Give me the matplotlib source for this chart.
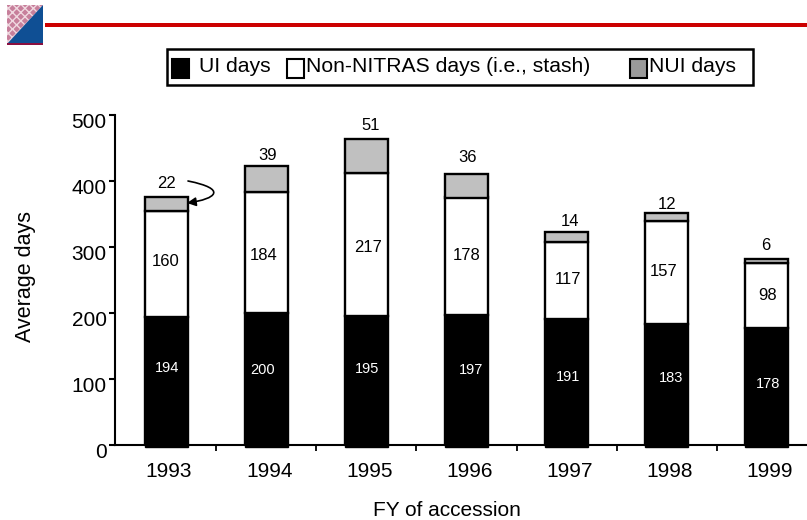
import matplotlib
matplotlib.use('Agg')
import matplotlib.pyplot as plt
import numpy as np
from matplotlib.patches import Rectangle, Polygon, FancyArrowPatch
from matplotlib.path import Path
from matplotlib.transforms import ScaledTranslation

years = ['1993', '1994', '1995', '1996', '1997', '1998', '1999']
ui_days = [194, 200, 195, 197, 191, 183, 178]
stash_days = [160, 184, 217, 178, 117, 157, 98]
nui_days = [22, 39, 51, 36, 14, 12, 6]

# label spots in the reference are hand placed, so pixel positions
ui_label_x = [167, 263, 367, 471, 568, 671, 768]
ui_label_y = [368, 370, 369, 370, 377, 378, 384]
stash_label_x = [166, 264, 368, 467, 568, 664, 768]
stash_label_y = [261, 256, 247, 255, 280, 271, 295]
nui_label_x = [167, 268, 371, 468, 570, 667, 766]
nui_label_y = [183, 155, 125, 158, 221, 205, 245]

W, H = 807, 520
plt.rcParams['font.family'] = ['Liberation Sans', 'DejaVu Sans']

fig = plt.figure(figsize=(W / 100, H / 100), dpi=100)


def fx(x):
    return x / W


def fy(y):
    return 1 - y / H


def label(x, y, s, **kw):
    fig.text(fx(x), fy(y), s, ha='center', va='center', **kw)


ax = fig.add_axes([fx(115), fy(445), fx(807 - 115), (445 - 115) / H])
x = np.arange(len(years))
ui = np.array(ui_days)
stash = np.array(stash_days)
nui = np.array(nui_days)
ax.bar(x, ui, 0.43, color='black', edgecolor='black', lw=1.7, zorder=3)
# black bars run a little under the axis line
ax.bar(x, 3, 0.43, bottom=-3, color='black', edgecolor='black', lw=1.0, clip_on=False, zorder=3)
ax.bar(x, stash, 0.43, bottom=ui, color='white', edgecolor='black', lw=1.7, zorder=3)
ax.bar(x, nui, 0.43, bottom=ui + stash, color='#c0c0c0', edgecolor='black', lw=1.7, zorder=3)

ax.set_xlim(-0.51, 6.4)
ax.set_ylim(0, 500)
ax.set_yticks([0, 100, 200, 300, 400, 500])
ax.set_xticks(x)
ax.set_xticklabels(years)
ax.set_xticks(x[:-1] + 0.5, minor=True)
ax.tick_params(axis='y', labelsize=15, length=4, width=1.5, direction='out', pad=2)
ax.tick_params(axis='x', which='major', labelsize=15, length=0, pad=12)
ax.tick_params(axis='x', which='minor', length=4, width=1.3, direction='out')
ax.spines['top'].set_visible(False)
ax.spines['right'].set_visible(False)
ax.spines['left'].set_linewidth(1.5)
ax.spines['bottom'].set_linewidth(1.5)

# tick labels sit off the ticks in the reference
for t in ax.get_yticklabels():
    t.set_transform(t.get_transform() + ScaledTranslation(0, -5 / 100, fig.dpi_scale_trans))
for t in ax.get_xticklabels():
    t.set_transform(t.get_transform() + ScaledTranslation(3 / 100, 0, fig.dpi_scale_trans))

label(447, 510, 'FY of accession', fontsize=15)
label(25, 277, 'Average days', fontsize=15.5, rotation=90)

for i in range(len(years)):
    label(ui_label_x[i], ui_label_y[i], str(ui_days[i]), fontsize=10.5, color='white', zorder=5)
    label(stash_label_x[i], stash_label_y[i], str(stash_days[i]), fontsize=12, zorder=5)
    label(nui_label_x[i], nui_label_y[i], str(nui_days[i]), fontsize=12, zorder=5)

# curved arrow from the 22 label to the top segment of 1993
arrow_path = Path([(fx(188) * W, fy(181) * H), (fx(228) * W, fy(189) * H),
                   (fx(216) * W, fy(199) * H), (fx(187) * W, fy(203) * H)],
                  [Path.MOVETO, Path.CURVE4, Path.CURVE4, Path.CURVE4])
arrow = FancyArrowPatch(path=arrow_path, arrowstyle='-|>', mutation_scale=13,
                        lw=1.2, color='black', zorder=6, transform=None)
fig.add_artist(arrow)

# header: logo and red rule
fig.add_artist(Polygon([(fx(7), fy(5)), (fx(43), fy(5)), (fx(7), fy(44))], closed=True,
                       transform=fig.transFigure, facecolor='#c77f9b', edgecolor='#f0d8e0',
                       hatch='xxxx', lw=0))
fig.add_artist(Polygon([(fx(43), fy(5)), (fx(43), fy(44)), (fx(7), fy(44))], closed=True,
                       transform=fig.transFigure, facecolor='#0f4f94', lw=0))
fig.add_artist(Rectangle((fx(7), fy(44.5)), fx(36), 1.5 / H, transform=fig.transFigure,
                         facecolor='#8a1040', lw=0))
fig.add_artist(Rectangle((fx(45), fy(27)), fx(762), 4 / H, transform=fig.transFigure,
                         facecolor='#cc0000', lw=0))

# legend box is laid out by hand
fig.add_artist(Rectangle((fx(167), fy(85)), fx(586), 36 / H, transform=fig.transFigure,
                         facecolor='white', edgecolor='black', lw=1.8))
for x0, c in [(172, 'black'), (287, 'white'), (630, '#999999')]:
    fig.add_artist(Rectangle((fx(x0), fy(77.5)), fx(17), 19 / H, transform=fig.transFigure,
                             facecolor=c, edgecolor='black', lw=1.5))
for x0, s in [(199, 'UI days'), (306, 'Non-NITRAS days (i.e., stash)'), (649, 'NUI days')]:
    fig.text(fx(x0), fy(67), s, fontsize=15.2, ha='left', va='center')

fig.savefig('out.png', dpi=100)
